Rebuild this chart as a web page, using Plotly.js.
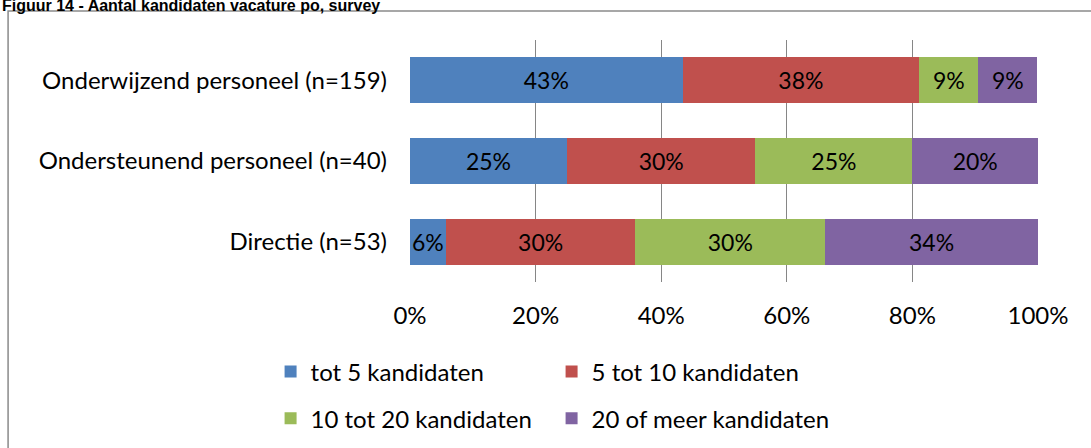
<!DOCTYPE html>
<html>
<head>
<meta charset="utf-8">
<script src="https://cdn.plot.ly/plotly-3.0.1.min.js"></script>
<style>
  html, body { margin: 0; padding: 0; background: #fff; }
  #chart { width: 1091px; height: 448px; }
</style>
</head>
<body>
<div id="chart"></div>
<script>
// categories, bottom to top
const categorieen = ['Directie (n=53)', 'Ondersteunend personeel (n=40)', 'Onderwijzend personeel (n=159)'];

const reeksen = ['tot 5 kandidaten', '5 tot 10 kandidaten', '10 tot 20 kandidaten', '20 of meer kandidaten'];
const kleuren = ['#4F81BD', '#C0504D', '#9BBB59', '#8064A2'];

// percentages per series, same order as categorieen
const tot5 = [5.7, 25, 43.4];
const tot10 = [30.2, 30, 37.7];
const tot20 = [30.2, 25, 9.4];
const meer20 = [33.9, 20, 9.4];

const waarden = [tot5, tot10, tot20, meer20];
const xTicks = [0, 20, 40, 60, 80, 100];
const xTickLabels = ['0%', '20%', '40%', '60%', '80%', '100%'];

const lettertype = 'Lato, "Open Sans", sans-serif';

const traces = reeksen.map((naam, i) => ({
  type: 'bar',
  orientation: 'h',
  name: naam,
  y: categorieen,
  x: waarden[i],
  marker: { color: kleuren[i] },
  texttemplate: '%{x:.0f}%',
  textposition: 'inside',
  insidetextanchor: 'middle',
  textangle: 0,
  constraintext: 'none',
  textfont: { family: lettertype, size: 23, color: '#000' },
  hoverinfo: 'skip',
  legend: i < 2 ? 'legend' : 'legend2'
}));

// two legend rows of two entries each
const legendaStijl = {
  orientation: 'h',
  xanchor: 'left',
  yanchor: 'middle',
  entrywidth: 236,
  itemwidth: 30,
  font: { family: lettertype, size: 24, color: '#000' },
  bgcolor: 'rgba(0,0,0,0)',
  traceorder: 'normal'
};

const layout = {
  width: 1091,
  height: 448,
  margin: { l: 410, r: 53, t: 40, b: 166, autoexpand: false },
  paper_bgcolor: '#fff',
  plot_bgcolor: '#fff',
  barmode: 'stack',
  bargap: 0.43,
  font: { family: lettertype, size: 24, color: '#000' },
  xaxis: {
    range: [0, 100],
    tickvals: xTicks,
    ticktext: xTickLabels,
    showgrid: true,
    gridcolor: '#868686',
    gridwidth: 1,
    zeroline: false,
    showline: false,
    ticks: '',
    ticklabelstandoff: 17,
    fixedrange: true
  },
  yaxis: {
    type: 'category',
    categoryorder: 'array',
    categoryarray: categorieen,
    showgrid: false,
    zeroline: false,
    showline: false,
    ticks: '',
    ticklabelstandoff: 22,
    fixedrange: true
  },
  showlegend: true,
  legend: Object.assign({ x: -0.222, y: -0.3715 }, legendaStijl),
  legend2: Object.assign({ x: -0.222, y: -0.5647 }, legendaStijl),
  annotations: [{
    xref: 'paper', yref: 'paper',
    x: -0.653, y: 1.1446,
    xanchor: 'left', yanchor: 'middle',
    showarrow: false,
    text: '<b>Figuur 14 - Aantal kandidaten vacature po, survey</b>',
    font: { family: 'Liberation Sans, Arial, sans-serif', size: 16, color: '#000' }
  }],
  shapes: [{
    type: 'rect',
    xref: 'paper', yref: 'paper',
    x0: -0.640, x1: 1.2,
    y0: -1.0, y1: 1.1198,
    line: { color: '#8a8a8a', width: 1.5 },
    fillcolor: 'rgba(0,0,0,0)',
    layer: 'below'
  }]
};

Plotly.newPlot('chart', traces, layout, { displayModeBar: false, staticPlot: true });
</script>
</body>
</html>
